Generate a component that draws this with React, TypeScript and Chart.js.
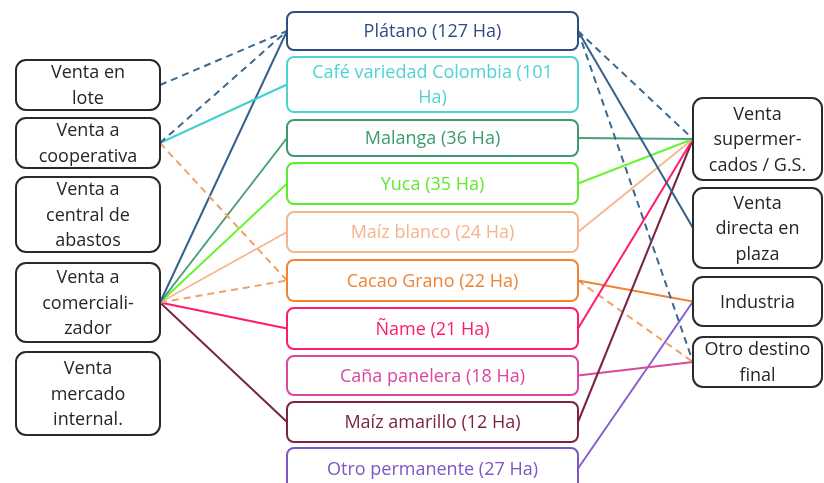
import React, { useEffect, useRef } from "react";
import { Chart, registerables } from "chart.js";

Chart.register(...registerables);

// ---------- DATA ----------
const leftLabels: string[][] = [
  ["Venta en", "lote"],
  ["Venta a", "cooperativa"],
  ["Venta a", "central de", "abastos"],
  ["Venta a", "comerciali-", "zador"],
  ["Venta", "mercado", "internal."],
];

const crops: string[] = [
  "Plátano",
  "Café variedad Colombia",
  "Malanga",
  "Yuca",
  "Maíz blanco",
  "Cacao Grano",
  "Ñame",
  "Caña panelera",
  "Maíz amarillo",
  "Otro permanente",
];
const hectares: number[] = [127, 101, 36, 35, 24, 22, 21, 18, 12, 27];

const rightLabels: string[][] = [
  ["Venta", "supermer-", "cados / G.S."],
  ["Venta", "directa en", "plaza"],
  ["Industria"],
  ["Otro destino", "final"],
];

// [left node, crop, dashed?]
const inflows: [number, number, boolean][] = [
  [0, 0, true],
  [1, 0, true],
  [1, 1, false],
  [1, 5, true],
  [3, 0, false],
  [3, 2, false],
  [3, 3, false],
  [3, 4, false],
  [3, 5, true],
  [3, 6, false],
  [3, 8, false],
];
// [crop, right node, dashed?]
const outflows: [number, number, boolean][] = [
  [0, 0, true],
  [0, 1, false],
  [0, 3, true],
  [2, 0, false],
  [3, 0, false],
  [4, 0, false],
  [6, 0, false],
  [8, 0, false],
  [5, 2, false],
  [5, 3, true],
  [7, 3, false],
  [9, 2, false],
];

// ---------- STYLE / LAYOUT ----------
const cropColors = [
  "#2F4E80",
  "#4ED3D3",
  "#3E9A6E",
  "#5EEA2E",
  "#F5B48C",
  "#EE8434",
  "#FF1A6C",
  "#D9479E",
  "#7A2346",
  "#7E57C2",
];
const lineColors = [
  "#34608E",
  "#3FD0D0",
  "#4AA078",
  "#66F533",
  "#F6B892",
  "#EE8434",
  "#FF1A6C",
  "#D9479E",
  "#7A2346",
  "#8A5ED0",
];
const dashedColors: Record<number, string> = { 0: "#3A6790", 5: "#F2A066" };

const W = 824;
const H = 483;
const LEFT_X: [number, number] = [16, 160];
const MID_X: [number, number] = [287, 578];
const RIGHT_X: [number, number] = [693, 822];
const leftY: [number, number][] = [
  [60, 110],
  [118, 168],
  [177, 252],
  [263, 342],
  [352, 435],
];
const midY: [number, number][] = [
  [12, 50],
  [57, 112],
  [120, 156],
  [163, 204],
  [212, 252],
  [260, 301],
  [308, 349],
  [356, 395],
  [402, 442],
  [448, 489],
];
const rightY: [number, number][] = [
  [98, 180],
  [188, 268],
  [277, 326],
  [337, 387],
];
const SIDE_FONT = '18px "Open Sans", sans-serif';
const MID_FONT = '18px "Open Sans", sans-serif';
const LINE_H = 25.5;

const mid = (r: [number, number]) => (r[0] + r[1]) / 2;

function buildDatasets() {
  const ds: any[] = [];
  inflows.forEach(([l, c, dashed]) => {
    ds.push({
      data: [
        { x: LEFT_X[1], y: mid(leftY[l]) },
        { x: MID_X[0], y: mid(midY[c]) },
      ],
      borderColor: dashed ? dashedColors[c] || lineColors[c] : lineColors[c],
      borderWidth: 2,
      borderDash: dashed ? [7, 5] : [],
    });
  });
  outflows.forEach(([c, r, dashed]) => {
    ds.push({
      data: [
        { x: MID_X[1], y: mid(midY[c]) },
        { x: RIGHT_X[0], y: mid(rightY[r]) },
      ],
      borderColor: dashed ? dashedColors[c] || lineColors[c] : lineColors[c],
      borderWidth: 2,
      borderDash: dashed ? [7, 5] : [],
    });
  });
  return ds.map((d) => ({
    ...d,
    showLine: true,
    pointRadius: 0,
    pointHoverRadius: 0,
    fill: false,
    clip: false,
  }));
}

function wrap(ctx: CanvasRenderingContext2D, text: string, maxW: number) {
  const words = text.split(" ");
  const lines: string[] = [];
  let cur = "";
  words.forEach((w) => {
    const t = cur ? cur + " " + w : w;
    if (ctx.measureText(t).width > maxW && cur) {
      lines.push(cur);
      cur = w;
    } else cur = t;
  });
  if (cur) lines.push(cur);
  return lines;
}

function roundRect(
  ctx: CanvasRenderingContext2D,
  x0: number,
  y0: number,
  x1: number,
  y1: number,
  r: number
) {
  ctx.beginPath();
  ctx.moveTo(x0 + r, y0);
  ctx.lineTo(x1 - r, y0);
  ctx.arcTo(x1, y0, x1, y0 + r, r);
  ctx.lineTo(x1, y1 - r);
  ctx.arcTo(x1, y1, x1 - r, y1, r);
  ctx.lineTo(x0 + r, y1);
  ctx.arcTo(x0, y1, x0, y1 - r, r);
  ctx.lineTo(x0, y0 + r);
  ctx.arcTo(x0, y0, x0 + r, y0, r);
  ctx.closePath();
}

const boxesPlugin = {
  id: "boxes",
  afterDatasetsDraw(chart: any) {
    const ctx: CanvasRenderingContext2D = chart.ctx;
    const sx = chart.scales.x;
    const sy = chart.scales.y;
    const px = (v: number) => sx.getPixelForValue(v);
    const py = (v: number) => sy.getPixelForValue(v);
    ctx.save();
    ctx.textAlign = "center";
    ctx.textBaseline = "middle";

    const drawBox = (
      xr: [number, number],
      yr: [number, number],
      lines: string[],
      stroke: string,
      textColor: string,
      radius: number,
      font: string
    ) => {
      const x0 = px(xr[0]);
      const x1 = px(xr[1]);
      const y0 = py(yr[0]);
      const y1 = py(yr[1]);
      roundRect(ctx, x0, y0, x1, y1, radius);
      ctx.fillStyle = "#ffffff";
      ctx.fill();
      ctx.lineWidth = 2;
      ctx.strokeStyle = stroke;
      ctx.stroke();
      ctx.font = font;
      ctx.fillStyle = textColor;
      const cx = (x0 + x1) / 2;
      const cy = (y0 + y1) / 2;
      const n = lines.length;
      lines.forEach((t, i) => {
        ctx.fillText(t, cx, cy + (i - (n - 1) / 2) * LINE_H + 1);
      });
    };

    leftLabels.forEach((lab, i) =>
      drawBox(LEFT_X, leftY[i], lab, "#2A2A2A", "#262626", 10, SIDE_FONT)
    );
    rightLabels.forEach((lab, i) =>
      drawBox(RIGHT_X, rightY[i], lab, "#2A2A2A", "#262626", 10, SIDE_FONT)
    );
    crops.forEach((c, i) => {
      const txt = `${c} (${hectares[i]} Ha)`;
      ctx.font = MID_FONT;
      const lines = wrap(ctx, txt, 262);
      drawBox(MID_X, midY[i], lines, cropColors[i], cropColors[i], 7, MID_FONT);
    });
    ctx.restore();
  },
};

export default function App() {
  const ref = useRef<HTMLCanvasElement | null>(null);
  useEffect(() => {
    if (!ref.current) return;
    const chart = new Chart(ref.current, {
      type: "scatter",
      data: { datasets: buildDatasets() },
      options: {
        animation: false,
        responsive: false,
        events: [],
        layout: { padding: 0 },
        scales: {
          x: { type: "linear", min: 0, max: W, display: false },
          y: { type: "linear", min: 0, max: H, reverse: true, display: false },
        },
        plugins: {
          legend: { display: false },
          tooltip: { enabled: false },
        },
      },
      plugins: [boxesPlugin],
    });
    return () => chart.destroy();
  }, []);
  return (
    <div
      style={{
        position: "fixed",
        left: 0,
        top: 0,
        width: W,
        height: H,
        background: "#ffffff",
      }}
    >
      <canvas ref={ref} width={W} height={H} style={{ display: "block" }} />
    </div>
  );
}
